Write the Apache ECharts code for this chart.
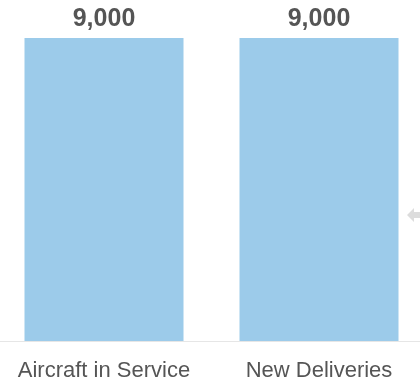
<!DOCTYPE html>
<html>
<head>
<meta charset="utf-8">
<script src="https://cdn.jsdelivr.net/npm/echarts@6/dist/echarts.min.js"></script>
<style>
  html, body { margin: 0; padding: 0; background: #fff; }
  #chart { width: 420px; height: 382px; }
</style>
</head>
<body>
<div id="chart"></div>
<script>
  const categories = ['Aircraft in Service', 'New Deliveries'];
  const values = [9000, 9000];

  // bar centres sit 215px apart, the first 104px from the left edge
  const positions = categories.map((_, i) => i);
  const points = values.map((v, i) => [positions[i], v]);

  const chart = echarts.init(document.getElementById('chart'));
  chart.setOption({
    animation: false,
    grid: { left: 0, right: 0, top: 38, bottom: 41 },
    xAxis: {
      type: 'value',
      min: -104 / 215,
      max: 316 / 215,
      splitLine: { show: false },
      axisLine: { show: true, onZero: false, lineStyle: { color: '#e6e6e6', width: 1 } },
      axisTick: { show: false },
      axisLabel: {
        customValues: positions,
        formatter: v => categories[Math.round(v)],
        color: '#555',
        fontSize: 22,
        fontFamily: 'Liberation Sans, Arial, sans-serif',
        margin: 19
      }
    },
    yAxis: {
      type: 'value',
      min: 0,
      max: 9000,
      show: false
    },
    series: [{
      type: 'bar',
      data: points,
      barWidth: 159,
      itemStyle: { color: '#9ccbea' },
      label: {
        show: true,
        position: 'top',
        distance: 6,
        color: '#555',
        fontSize: 25,
        fontWeight: 'bold',
        fontFamily: 'Liberation Sans, Arial, sans-serif',
        formatter: p => p.value[1].toLocaleString('en-US')
      }
    }],
    graphic: [{
      type: 'polygon',
      shape: { points: [[407, 215], [414, 208], [414, 212], [420, 212], [420, 218], [414, 218], [414, 222]] },
      style: { fill: '#dcdcdc' }
    }]
  });
</script>
</body>
</html>
